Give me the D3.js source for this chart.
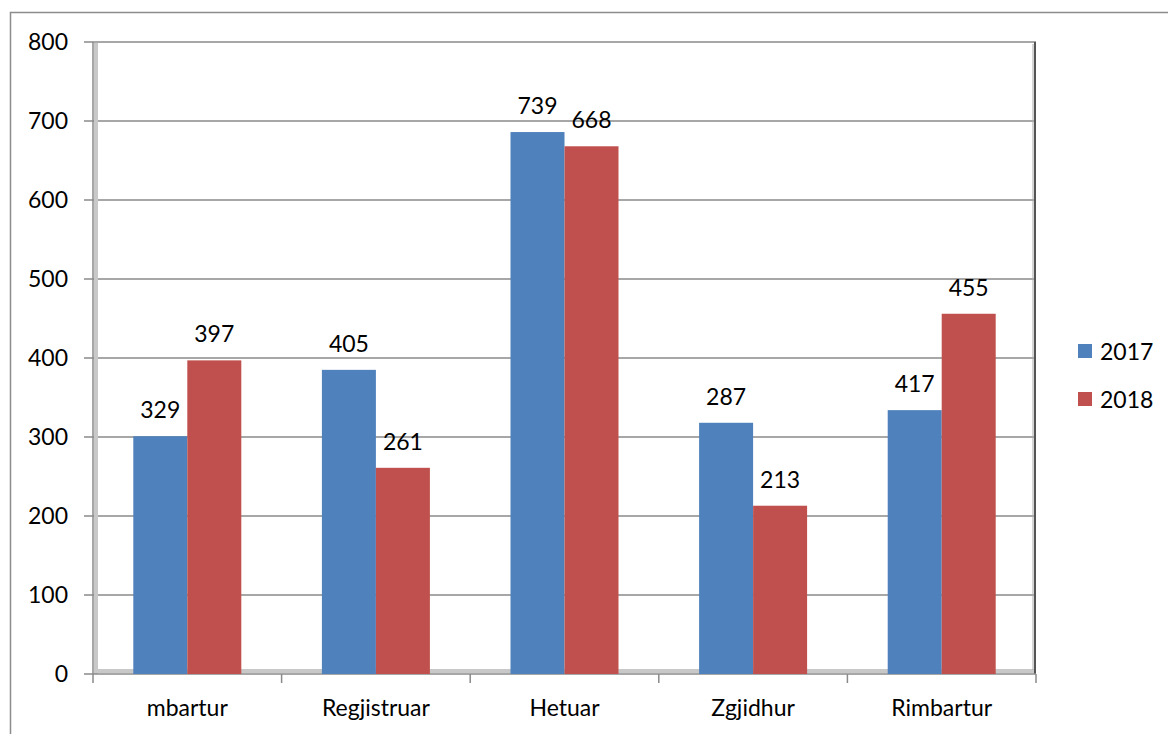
<!DOCTYPE html>
<html>
<head>
<meta charset="utf-8">
<script src="https://cdn.jsdelivr.net/npm/d3@7"></script>
<style>
  body { margin: 0; background: #fff; }
  text { font-family: Lato, "Open Sans", sans-serif; fill: #000; }
</style>
</head>
<body>
<svg id="chart" width="1168" height="734"></svg>
<script>
const categories = ['mbartur', 'Regjistruar', 'Hetuar', 'Zgjidhur', 'Rimbartur'];
const seriesNames = ['2017', '2018'];
// bar heights as drawn
const values2017 = [301, 385, 686, 318, 334];
const values2018 = [397, 261, 668, 213, 456];
// data labels as printed
const labels2017 = ['329', '405', '739', '287', '417'];
const labels2018 = ['397', '261', '668', '213', '455'];
const yTicks = [0, 100, 200, 300, 400, 500, 600, 700, 800];

const colors = ['#4F81BD', '#C0504D'];
const fontSize = 23;
const svg = d3.select('#chart');

const plotLeft = 93, plotRight = 1036, plotTop = 42, plotBottom = 674;

const x = d3.scaleBand().domain(categories).range([plotLeft, plotRight]);
const xs = d3.scaleBand().domain(seriesNames).range([0, 108]);
const y = d3.scaleLinear().domain([0, 800]).range([plotBottom, plotTop]);

// outer frame
svg.append('path')
  .attr('d', `M10.5,734 L10.5,12.5 L1168,12.5`)
  .attr('fill', 'none')
  .attr('stroke', '#8c8c8c')
  .attr('stroke-width', 1.5);

// gridlines + y tick marks
svg.append('g').selectAll('line').data(yTicks.slice(1)).join('line')
  .attr('x1', plotLeft - 9).attr('x2', plotRight)
  .attr('y1', d => y(d)).attr('y2', d => y(d))
  .attr('stroke', '#8a8a8a').attr('stroke-width', 1.5);

// 3d walls
svg.append('rect')
  .attr('x', plotLeft + 1).attr('y', plotTop + 1)
  .attr('width', 4).attr('height', plotBottom - plotTop - 1)
  .attr('fill', '#c8c8c8');
svg.append('rect')
  .attr('x', plotLeft + 1).attr('y', plotBottom - 5)
  .attr('width', plotRight - plotLeft - 1).attr('height', 4)
  .attr('fill', '#c8c8c8');
svg.append('line')
  .attr('x1', plotRight - 1).attr('x2', plotRight - 1)
  .attr('y1', plotTop).attr('y2', plotBottom)
  .attr('stroke', '#555').attr('stroke-width', 2);
svg.append('line')
  .attr('x1', plotRight - 3).attr('x2', plotRight - 3)
  .attr('y1', plotTop + 2).attr('y2', plotBottom - 4)
  .attr('stroke', '#aaa').attr('stroke-width', 1);

// axes
svg.append('line')
  .attr('x1', plotLeft).attr('x2', plotLeft)
  .attr('y1', plotTop).attr('y2', plotBottom + 9)
  .attr('stroke', '#8a8a8a').attr('stroke-width', 1.5);
svg.append('line')
  .attr('x1', plotLeft - 9).attr('x2', plotRight)
  .attr('y1', plotBottom).attr('y2', plotBottom)
  .attr('stroke', '#8a8a8a').attr('stroke-width', 1.5);
svg.append('g').selectAll('line').data(categories).join('line')
  .attr('x1', d => x(d) + x.bandwidth())
  .attr('x2', d => x(d) + x.bandwidth())
  .attr('y1', plotBottom).attr('y2', plotBottom + 9)
  .attr('stroke', '#8a8a8a').attr('stroke-width', 1.5);

// y labels
svg.append('g').selectAll('text').data(yTicks).join('text')
  .attr('x', 68).attr('y', d => y(d))
  .attr('dy', '0.35em')
  .attr('text-anchor', 'end')
  .attr('font-size', fontSize)
  .text(d => d);

// x labels
svg.append('g').selectAll('text').data(categories).join('text')
  .attr('x', d => x(d) + x.bandwidth() / 2)
  .attr('y', 708).attr('dy', '0.35em')
  .attr('text-anchor', 'middle')
  .attr('font-size', fontSize)
  .text(d => d);

// bars
const series = [
  { name: '2017', values: values2017, labels: labels2017 },
  { name: '2018', values: values2018, labels: labels2018 }
];
series.forEach((s, si) => {
  const g = svg.append('g');
  const groupOffset = (x.bandwidth() - 108) / 2;
  g.selectAll('rect').data(s.values).join('rect')
    .attr('x', (d, i) => x(categories[i]) + groupOffset + xs(s.name))
    .attr('y', d => y(d))
    .attr('width', xs.bandwidth())
    .attr('height', d => y(0) - y(d))
    .attr('fill', colors[si]);
  g.selectAll('text').data(s.values).join('text')
    .attr('x', (d, i) => x(categories[i]) + groupOffset + xs(s.name) + xs.bandwidth() / 2)
    .attr('y', d => y(d) - 26)
    .attr('dy', '0.35em')
    .attr('text-anchor', 'middle')
    .attr('font-size', fontSize)
    .text((d, i) => s.labels[i]);
});

// legend
const legend = svg.append('g');
seriesNames.forEach((name, i) => {
  const cy = 351 + i * 48;
  legend.append('rect')
    .attr('x', 1078).attr('y', cy - 7)
    .attr('width', 14).attr('height', 14)
    .attr('fill', colors[i]);
  legend.append('text')
    .attr('x', 1100).attr('y', cy + 1)
    .attr('dy', '0.35em')
    .attr('font-size', fontSize)
    .text(name);
});
</script>
</body>
</html>
